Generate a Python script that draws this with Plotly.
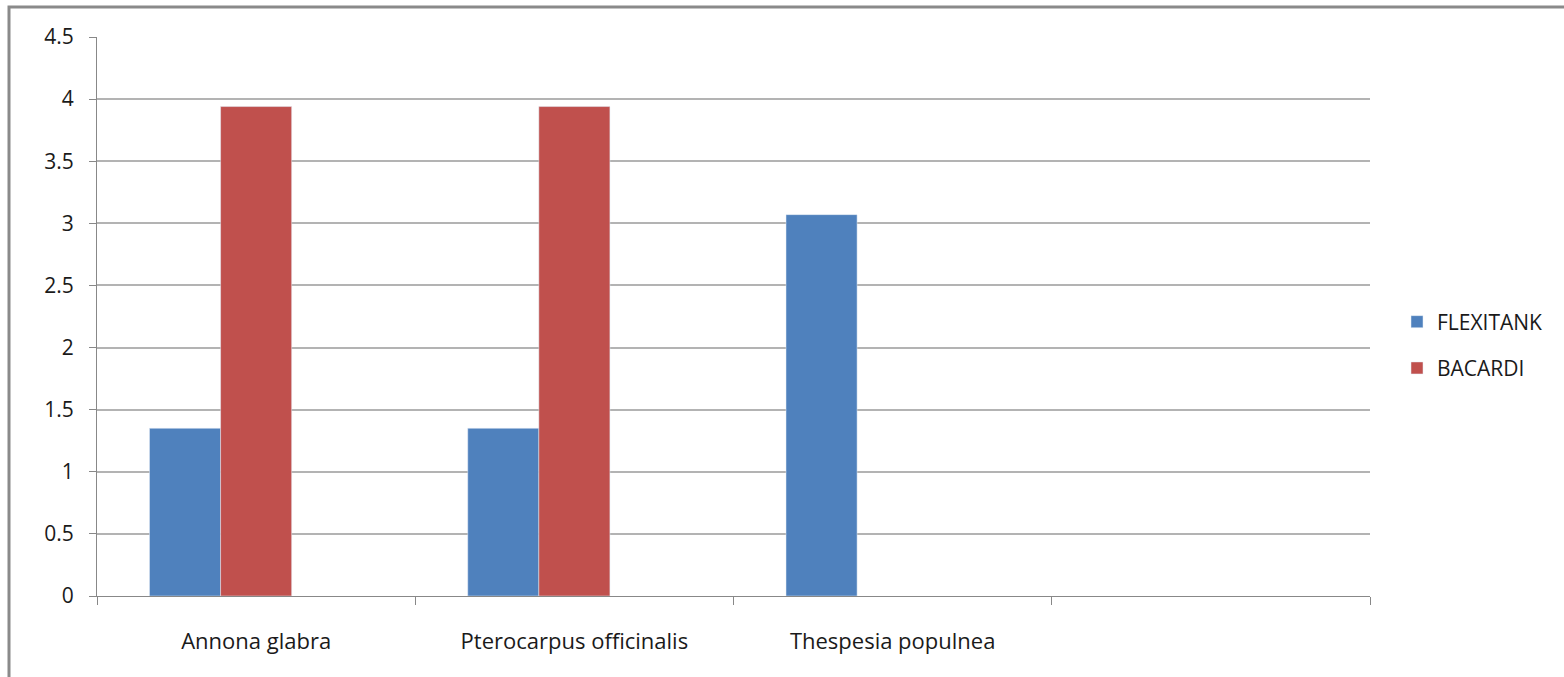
import plotly.graph_objects as go

categories = ["Annona glabra", "Pterocarpus officinalis", "Thespesia populnea", " "]
flexitank = [1.35, 1.35, 3.07, None]
bacardi = [3.94, 3.94, None, None]
series3 = [None, None, None, None]
y_ticks = [0, 0.5, 1, 1.5, 2, 2.5, 3, 3.5, 4, 4.5]

W, H = 1564, 677
L, R, T, B = 97, 1370, 37, 596

FONT = "Open Sans"

fig = go.Figure()
fig.add_trace(go.Bar(x=categories, y=flexitank, name="FLEXITANK",
                     marker_color="#4F81BD", legendgroup="a"))
fig.add_trace(go.Bar(x=categories, y=bacardi, name="BACARDI",
                     marker_color="#C0504D", legendgroup="b"))
fig.add_trace(go.Bar(x=categories, y=series3, name="", showlegend=False,
                     marker_color="#9BBB59", legendgroup="c"))

def px_x(p):
    return (p - L) / (R - L)

def px_y(p):
    return (B - p) / (B - T)

fig.update_layout(
    width=W, height=H,
    margin=dict(l=L, r=W - R, t=T, b=H - B, autoexpand=False),
    paper_bgcolor="white", plot_bgcolor="white",
    barmode="group", bargap=0.33, bargroupgap=0,
    font=dict(family=FONT, size=21, color="#1a1a1a"),
    legend=dict(x=px_x(1397), y=px_y(345), xanchor="left", yanchor="middle",
                font=dict(size=21, family=FONT), tracegroupgap=16,
                traceorder="grouped", bgcolor="rgba(0,0,0,0)"),
    xaxis=dict(type="category", tickson="boundaries", ticks="outside",
               ticklen=8, tickcolor="#888888", showline=True,
               linecolor="#888888", linewidth=1, showgrid=False,
               ticklabelstandoff=26, range=[-0.5, 3.5],
               tickfont=dict(size=22, family=FONT)),
    yaxis=dict(range=[0, 4.5], tickvals=y_ticks, ticks="outside", ticklen=7,
               tickcolor="#888888", showline=True, linecolor="#888888",
               linewidth=1, showgrid=True, gridcolor="#b3b3b3", gridwidth=1.5,
               zeroline=False, ticklabelstandoff=11,
               tickfont=dict(size=21, family=FONT)),
    shapes=[dict(type="rect", xref="paper", yref="paper",
                 x0=px_x(9), x1=px_x(1620), y0=px_y(720), y1=px_y(7),
                 line=dict(color="#8a8a8a", width=3), layer="below")],
)

fig.write_html("out.html", config={"displayModeBar": False},
               post_script="document.body.style.margin='0';")
